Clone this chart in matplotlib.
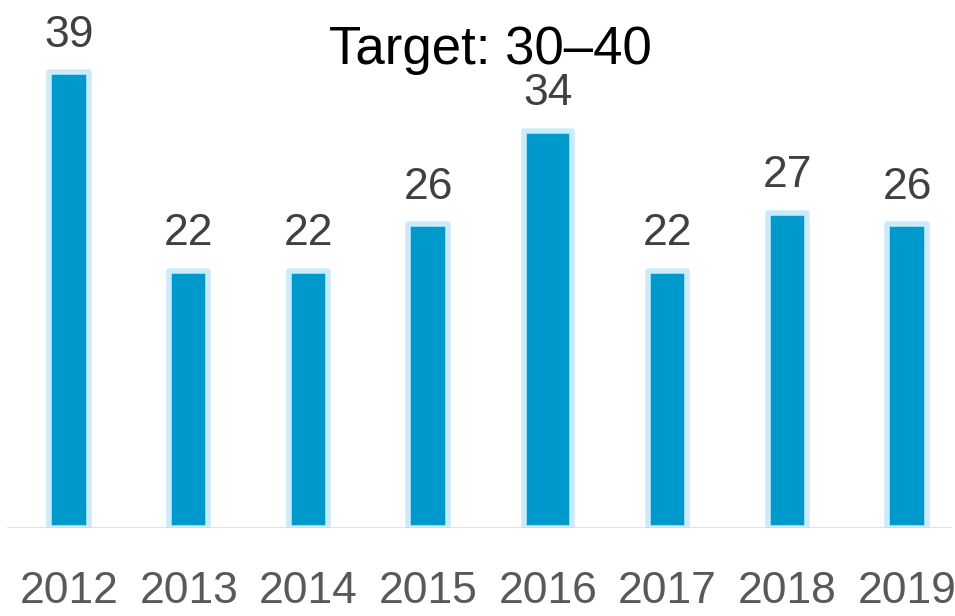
import matplotlib.pyplot as plt
from matplotlib import font_manager

years = ["2012", "2013", "2014", "2015", "2016", "2017", "2018", "2019"]
values = [39, 22, 22, 26, 34, 22, 27, 26]
title = "Target: 30\u201340"

names = {f.name for f in font_manager.fontManager.ttflist}
fam = ["Liberation Sans Narrow"] if "Liberation Sans Narrow" in names else ["Liberation Sans"]
plt.rcParams["font.family"] = fam + ["DejaVu Sans"]

fig = plt.figure(figsize=(9.55, 6.16), dpi=100)
ax = fig.add_axes([0, 0.143, 1, 0.857])

x = list(range(len(years)))
# 2016 bar is drawn a bit wider in the original
widths = [0.40 if y == "2016" else 0.33 for y in years]
ax.bar(x, values, width=widths, color="#0099CC", edgecolor="#CCEBFA",
       linewidth=4, joinstyle="round", zorder=2)
ax.axhline(0, xmin=8 / 955, xmax=950 / 955, color="#D9D9D9", lw=1.8, zorder=3)

for xi, v in zip(x, values):
    ax.annotate(str(v), (xi, v), xytext=(0, 12), textcoords="offset points",
                ha="center", va="bottom", fontsize=32, color="#404040")

ax.text(0.513, 0.906, title, transform=ax.transAxes, ha="center", va="center",
        fontsize=38, color="black")

ax.set_xlim(-0.576, 7.40)
ax.set_ylim(0, 45.2)
ax.set_xticks(x)
ax.set_xticklabels(years, fontsize=32, color="#595959")
ax.tick_params(axis="x", length=0, pad=31)
ax.set_yticks([])
for s in ax.spines.values():
    s.set_visible(False)

fig.savefig("out.png", dpi=100)
